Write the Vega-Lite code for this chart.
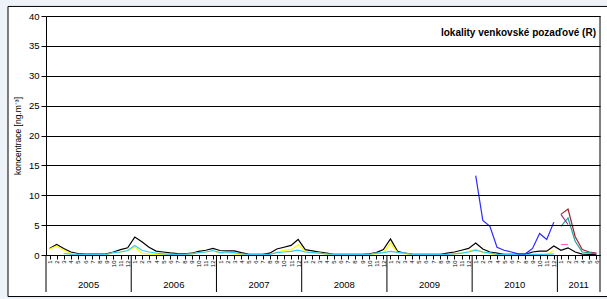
{
  "$schema": "https://vega.github.io/schema/vega-lite/v6.json",
  "autosize": {"type": "none"},
  "width": 554,
  "height": 239,
  "padding": {"left": 46, "top": 16, "right": 7, "bottom": 44},
  "background": "#eef2f9",
  "config": {"font": "Liberation Sans", "view": {"stroke": null}},
  "title": {"text": "lokality venkovské pozaďové (R)", "anchor": "end", "orient": "top", "frame": "group", "offset": -32, "dx": -4, "fontSize": 10, "fontWeight": "bold", "font": "Liberation Sans", "color": "#000", "zindex": 2},
  "datasets": {
    "series": [
      {"s":"k","i":0,"v":1.1},{"s":"k","i":1,"v":1.75},{"s":"k","i":2,"v":1.1},{"s":"k","i":3,"v":0.5},{"s":"k","i":4,"v":0.25},{"s":"k","i":5,"v":0.15},{"s":"k","i":6,"v":0.15},{"s":"k","i":7,"v":0.15},{"s":"k","i":8,"v":0.2},{"s":"k","i":9,"v":0.5},{"s":"k","i":10,"v":0.9},{"s":"k","i":11,"v":1.2},
      {"s":"k","i":12,"v":3.0},{"s":"k","i":13,"v":2.2},{"s":"k","i":14,"v":1.3},{"s":"k","i":15,"v":0.65},{"s":"k","i":16,"v":0.5},{"s":"k","i":17,"v":0.35},{"s":"k","i":18,"v":0.25},{"s":"k","i":19,"v":0.2},{"s":"k","i":20,"v":0.3},{"s":"k","i":21,"v":0.6},{"s":"k","i":22,"v":0.8},{"s":"k","i":23,"v":1.1},
      {"s":"k","i":24,"v":0.75},{"s":"k","i":25,"v":0.7},{"s":"k","i":26,"v":0.7},{"s":"k","i":27,"v":0.4},{"s":"k","i":28,"v":0.15},{"s":"k","i":29,"v":0.1},{"s":"k","i":30,"v":0.1},{"s":"k","i":31,"v":0.3},{"s":"k","i":32,"v":1.0},{"s":"k","i":33,"v":1.3},{"s":"k","i":34,"v":1.6},{"s":"k","i":35,"v":2.6},
      {"s":"k","i":36,"v":0.9},{"s":"k","i":37,"v":0.7},{"s":"k","i":38,"v":0.5},{"s":"k","i":39,"v":0.3},{"s":"k","i":40,"v":0.1},{"s":"k","i":41,"v":0.1},{"s":"k","i":42,"v":0.1},{"s":"k","i":43,"v":0.1},{"s":"k","i":44,"v":0.1},{"s":"k","i":45,"v":0.2},{"s":"k","i":46,"v":0.4},{"s":"k","i":47,"v":0.9},
      {"s":"k","i":48,"v":2.7},{"s":"k","i":49,"v":0.6},{"s":"k","i":50,"v":0.3},{"s":"k","i":51,"v":0.15},{"s":"k","i":52,"v":0.1},{"s":"k","i":53,"v":0.1},{"s":"k","i":54,"v":0.1},{"s":"k","i":55,"v":0.1},{"s":"k","i":56,"v":0.3},{"s":"k","i":57,"v":0.5},{"s":"k","i":58,"v":0.8},{"s":"k","i":59,"v":1.1},
      {"s":"k","i":60,"v":2.0},{"s":"k","i":61,"v":1.0},{"s":"k","i":62,"v":0.5},{"s":"k","i":63,"v":0.3},{"s":"k","i":64,"v":0.1},{"s":"k","i":65,"v":0.1},{"s":"k","i":66,"v":0.1},{"s":"k","i":67,"v":0.1},{"s":"k","i":68,"v":0.5},{"s":"k","i":69,"v":0.65},{"s":"k","i":70,"v":0.65},{"s":"k","i":71,"v":1.5},
      {"s":"k","i":72,"v":0.8},{"s":"k","i":73,"v":1.2},{"s":"k","i":74,"v":0.5},{"s":"k","i":75,"v":0.15},{"s":"k","i":76,"v":0.1},{"s":"k","i":77,"v":0.05},
      {"s":"y","i":0,"v":1.0},{"s":"y","i":1,"v":1.5},{"s":"y","i":2,"v":0.8},{"s":"y","i":3,"v":0.2},{"s":"y","i":4,"v":0.05},{"s":"y","i":5,"v":0.05},{"s":"y","i":6,"v":0.05},{"s":"y","i":7,"v":0.05},{"s":"y","i":8,"v":0.05},{"s":"y","i":9,"v":0.4},{"s":"y","i":10,"v":0.5},{"s":"y","i":11,"v":0.7},
      {"s":"y","i":12,"v":1.35},{"s":"y","i":13,"v":0.3},{"s":"y","i":14,"v":0.15},{"s":"y","i":15,"v":0.05},{"s":"y","i":16,"v":0.05},{"s":"y","i":17,"v":0.05},{"s":"y","i":18,"v":0.05},{"s":"y","i":19,"v":0.05},{"s":"y","i":20,"v":0.2},{"s":"y","i":21,"v":0.4},{"s":"y","i":22,"v":0.5},{"s":"y","i":23,"v":0.7},
      {"s":"y","i":24,"v":0.3},{"s":"y","i":25,"v":0.3},{"s":"y","i":26,"v":0.2},{"s":"y","i":27,"v":0.1},{"s":"y","i":28,"v":0.05},{"s":"y","i":29,"v":0.05},{"s":"y","i":30,"v":0.05},{"s":"y","i":31,"v":0.05},{"s":"y","i":32,"v":0.5},{"s":"y","i":33,"v":0.8},{"s":"y","i":34,"v":0.9},{"s":"y","i":35,"v":1.7},
      {"s":"y","i":36,"v":0.6},{"s":"y","i":37,"v":0.4},{"s":"y","i":38,"v":0.3},{"s":"y","i":39,"v":0.1},{"s":"y","i":40,"v":0.05},{"s":"y","i":41,"v":0.05},{"s":"y","i":42,"v":0.05},{"s":"y","i":43,"v":0.05},{"s":"y","i":44,"v":0.05},{"s":"y","i":45,"v":0.05},{"s":"y","i":46,"v":0.2},{"s":"y","i":47,"v":0.4},
      {"s":"y","i":48,"v":2.0},{"s":"y","i":49,"v":0.4},{"s":"y","i":50,"v":0.2},{"s":"y","i":51,"v":0.05},{"s":"y","i":52,"v":0.05},{"s":"y","i":53,"v":0.05},{"s":"y","i":54,"v":0.05},{"s":"y","i":55,"v":0.05},{"s":"y","i":56,"v":0.05},{"s":"y","i":57,"v":0.2},{"s":"y","i":58,"v":0.3},{"s":"y","i":59,"v":0.6},
      {"s":"y","i":60,"v":1.0},{"s":"y","i":61,"v":0.4},{"s":"y","i":62,"v":0.2},{"s":"y","i":63,"v":0.05},{"s":"y","i":64,"v":0.05},{"s":"y","i":65,"v":0.05},{"s":"y","i":66,"v":0.05},{"s":"y","i":67,"v":0.05},{"s":"y","i":68,"v":0.05},{"s":"y","i":69,"v":0.05},{"s":"y","i":70,"v":0.1},{"s":"y","i":71,"v":0.75},
      {"s":"c","i":2,"v":0.25},{"s":"c","i":3,"v":0.15},{"s":"c","i":4,"v":0.1},{"s":"c","i":5,"v":0.1},{"s":"c","i":6,"v":0.1},{"s":"c","i":7,"v":0.1},{"s":"c","i":8,"v":0.1},{"s":"c","i":9,"v":0.4},{"s":"c","i":10,"v":0.5},{"s":"c","i":11,"v":0.75},
      {"s":"c","i":12,"v":1.6},{"s":"c","i":13,"v":0.8},{"s":"c","i":14,"v":0.5},{"s":"c","i":15,"v":0.3},{"s":"c","i":16,"v":0.2},{"s":"c","i":17,"v":0.1},{"s":"c","i":18,"v":0.1},{"s":"c","i":19,"v":0.1},{"s":"c","i":20,"v":0.2},{"s":"c","i":21,"v":0.4},{"s":"c","i":22,"v":0.5},{"s":"c","i":23,"v":0.75},
      {"s":"c","i":24,"v":0.4},{"s":"c","i":25,"v":0.5},{"s":"c","i":26,"v":0.4},{"s":"c","i":27,"v":0.2},{"s":"c","i":28,"v":0.1},{"s":"c","i":29,"v":0.1},{"s":"c","i":30,"v":0.1},{"s":"c","i":31,"v":0.1},{"s":"c","i":32,"v":0.4},{"s":"c","i":33,"v":0.5},{"s":"c","i":34,"v":0.6},{"s":"c","i":35,"v":0.8},
      {"s":"c","i":36,"v":0.5},{"s":"c","i":37,"v":0.4},{"s":"c","i":38,"v":0.3},{"s":"c","i":39,"v":0.2},{"s":"c","i":40,"v":0.1},{"s":"c","i":41,"v":0.1},{"s":"c","i":42,"v":0.1},{"s":"c","i":43,"v":0.1},{"s":"c","i":44,"v":0.1},{"s":"c","i":45,"v":0.1},{"s":"c","i":46,"v":0.3},{"s":"c","i":47,"v":0.4},
      {"s":"c","i":48,"v":0.6},{"s":"c","i":49,"v":0.45},{"s":"c","i":50,"v":0.3},{"s":"c","i":51,"v":0.1},{"s":"c","i":52,"v":0.1},{"s":"c","i":53,"v":0.1},{"s":"c","i":54,"v":0.1},{"s":"c","i":55,"v":0.1},{"s":"c","i":56,"v":0.1},{"s":"c","i":57,"v":0.2},{"s":"c","i":58,"v":0.3},{"s":"c","i":59,"v":0.5},
      {"s":"c","i":60,"v":0.8},{"s":"c","i":61,"v":0.5},{"s":"c","i":62,"v":0.35},{"s":"c","i":63,"v":0.1},{"s":"c","i":64,"v":0.1},{"s":"c","i":65,"v":0.1},{"s":"c","i":66,"v":0.1},{"s":"c","i":67,"v":0.1},{"s":"c","i":68,"v":0.1},{"s":"c","i":69,"v":0.1},{"s":"c","i":70,"v":0.1},{"s":"c","i":71,"v":0.2},
      {"s":"b","i":60,"v":13.3},{"s":"b","i":61,"v":5.8},{"s":"b","i":62,"v":4.8},{"s":"b","i":63,"v":1.3},{"s":"b","i":64,"v":0.8},{"s":"b","i":65,"v":0.5},{"s":"b","i":66,"v":0.2},{"s":"b","i":67,"v":0.2},{"s":"b","i":68,"v":1.1},{"s":"b","i":69,"v":3.6},{"s":"b","i":70,"v":2.6},{"s":"b","i":71,"v":5.5},
      {"s":"r","i":72,"v":6.8},{"s":"r","i":73,"v":7.7},{"s":"r","i":74,"v":3.1},{"s":"r","i":75,"v":0.9},{"s":"r","i":76,"v":0.5},{"s":"r","i":77,"v":0.3},
      {"s":"t","i":72,"v":4.8},{"s":"t","i":73,"v":6.2},{"s":"t","i":74,"v":2.3},{"s":"t","i":75,"v":0.5},{"s":"t","i":76,"v":0.35},{"s":"t","i":77,"v":0.2},
      {"s":"p","i":72,"v":6.8},{"s":"p","i":73,"v":5.1},
      {"s":"m","i":72,"v":1.75},{"s":"m","i":73,"v":1.75}
    ],
    "years": [
      {"year":"2005","c":5.5},{"year":"2006","c":17.5},{"year":"2007","c":29.5},{"year":"2008","c":41.5},{"year":"2009","c":53.5},{"year":"2010","c":65.5},{"year":"2011","c":74.5}
    ],
    "bounds": [
      {"b":-0.5},{"b":11.5},{"b":23.5},{"b":35.5},{"b":47.5},{"b":59.5},{"b":71.5},{"b":77.5}
    ],
    "one": [{"k":1}]
  },
  "layer": [
    {
      "data": {"name": "one"},
      "mark": {"type": "rect", "fill": "white", "stroke": "black", "strokeWidth": 1, "clip": false},
      "encoding": {
        "x": {"datum": -5.85, "type": "quantitative", "scale": {"domain": [-0.5, 77.5], "nice": false, "zero": false},
          "axis": {"values": [0,1,2,3,4,5,6,7,8,9,10,11,12,13,14,15,16,17,18,19,20,21,22,23,24,25,26,27,28,29,30,31,32,33,34,35,36,37,38,39,40,41,42,43,44,45,46,47,48,49,50,51,52,53,54,55,56,57,58,59,60,61,62,63,64,65,66,67,68,69,70,71,72,73,74,75,76,77],
            "labelExpr": "(datum.value % 12) + 1", "labelAngle": -90, "labelFontSize": 6, "labelPadding": 1, "labelColor": "#000", "labelOverlap": false, "labelBound": false, "labelFlush": false,
            "tickSize": 4, "tickColor": "#000", "domainColor": "#000", "grid": false, "title": null, "zindex": 1}},
        "x2": {"datum": 80},
        "y": {"datum": 41.6, "type": "quantitative", "scale": {"domain": [0, 40], "nice": false},
          "axis": {"values": [0,5,10,15,20,25,30,35,40], "title": "koncentrace [ng.m⁻³]", "titleFontSize": 8.5, "titleFontWeight": "normal", "titleColor": "#000", "titlePadding": 6,
            "labelFontSize": 9.5, "labelColor": "#000", "labelPadding": 2, "tickSize": 5, "tickColor": "#000", "domainColor": "#000",
            "grid": true, "gridColor": "#000", "gridWidth": 1, "zindex": 1}},
        "y2": {"datum": -6.95}
      }
    },
    {
      "data": {"name": "series"},
      "mark": {"type": "line", "strokeWidth": 1.2, "clip": false},
      "encoding": {
        "x": {"field": "i", "type": "quantitative",
          "axis": {"values": [0,1,2,3,4,5,6,7,8,9,10,11,12,13,14,15,16,17,18,19,20,21,22,23,24,25,26,27,28,29,30,31,32,33,34,35,36,37,38,39,40,41,42,43,44,45,46,47,48,49,50,51,52,53,54,55,56,57,58,59,60,61,62,63,64,65,66,67,68,69,70,71,72,73,74,75,76,77],
            "labelExpr": "(datum.value % 12) + 1", "labelAngle": -90, "labelFontSize": 6, "labelPadding": 1, "labelColor": "#000", "labelOverlap": false, "labelBound": false, "labelFlush": false,
            "tickSize": 4, "tickColor": "#000", "domainColor": "#000", "grid": false, "title": null, "zindex": 1}},
        "y": {"field": "v", "type": "quantitative",
          "axis": {"values": [0,5,10,15,20,25,30,35,40], "title": "koncentrace [ng.m⁻³]", "titleFontSize": 8.5, "titleFontWeight": "normal", "titleColor": "#000", "titlePadding": 6,
            "labelFontSize": 9.5, "labelColor": "#000", "labelPadding": 2, "tickSize": 5, "tickColor": "#000", "domainColor": "#000",
            "grid": true, "gridColor": "#000", "gridWidth": 1, "zindex": 1}},
        "color": {"field": "s", "type": "nominal", "legend": null,
          "scale": {"domain": ["k","y","c","b","r","t","p","m"], "range": ["#000000","#ffff00","#33ccff","#2b2bff","#a0232d","#1f9e9e","#9a2f7f","#ff66cc"]}},
        "order": {"field": "i"}
      }
    },
    {
      "data": {"name": "bounds"},
      "mark": {"type": "rule", "color": "#000", "strokeWidth": 1, "clip": false},
      "encoding": {
        "x": {"field": "b", "type": "quantitative",
          "axis": {"values": [0,1,2,3,4,5,6,7,8,9,10,11,12,13,14,15,16,17,18,19,20,21,22,23,24,25,26,27,28,29,30,31,32,33,34,35,36,37,38,39,40,41,42,43,44,45,46,47,48,49,50,51,52,53,54,55,56,57,58,59,60,61,62,63,64,65,66,67,68,69,70,71,72,73,74,75,76,77],
            "labelExpr": "(datum.value % 12) + 1", "labelAngle": -90, "labelFontSize": 6, "labelPadding": 1, "labelColor": "#000", "labelOverlap": false, "labelBound": false, "labelFlush": false,
            "tickSize": 4, "tickColor": "#000", "domainColor": "#000", "grid": false, "title": null, "zindex": 1}},
        "y": {"datum": 0, "type": "quantitative",
          "axis": {"values": [0,5,10,15,20,25,30,35,40], "title": "koncentrace [ng.m⁻³]", "titleFontSize": 8.5, "titleFontWeight": "normal", "titleColor": "#000", "titlePadding": 6,
            "labelFontSize": 9.5, "labelColor": "#000", "labelPadding": 2, "tickSize": 5, "tickColor": "#000", "domainColor": "#000",
            "grid": true, "gridColor": "#000", "gridWidth": 1, "zindex": 1}},
        "y2": {"datum": -6.2}
      }
    },
    {
      "data": {"name": "one"},
      "mark": {"type": "rule", "color": "#000", "strokeWidth": 1, "clip": false},
      "encoding": {
        "x": {"datum": 77.5, "type": "quantitative",
          "axis": {"values": [0,1,2,3,4,5,6,7,8,9,10,11,12,13,14,15,16,17,18,19,20,21,22,23,24,25,26,27,28,29,30,31,32,33,34,35,36,37,38,39,40,41,42,43,44,45,46,47,48,49,50,51,52,53,54,55,56,57,58,59,60,61,62,63,64,65,66,67,68,69,70,71,72,73,74,75,76,77],
            "labelExpr": "(datum.value % 12) + 1", "labelAngle": -90, "labelFontSize": 6, "labelPadding": 1, "labelColor": "#000", "labelOverlap": false, "labelBound": false, "labelFlush": false,
            "tickSize": 4, "tickColor": "#000", "domainColor": "#000", "grid": false, "title": null, "zindex": 1}},
        "y": {"datum": 0, "type": "quantitative",
          "axis": {"values": [0,5,10,15,20,25,30,35,40], "title": "koncentrace [ng.m⁻³]", "titleFontSize": 8.5, "titleFontWeight": "normal", "titleColor": "#000", "titlePadding": 6,
            "labelFontSize": 9.5, "labelColor": "#000", "labelPadding": 2, "tickSize": 5, "tickColor": "#000", "domainColor": "#000",
            "grid": true, "gridColor": "#000", "gridWidth": 1, "zindex": 1}},
        "y2": {"datum": 40}
      }
    },
    {
      "data": {"name": "years"},
      "mark": {"type": "text", "fontSize": 9.5, "color": "#000", "baseline": "middle", "align": "center", "clip": false},
      "encoding": {
        "x": {"field": "c", "type": "quantitative",
          "axis": {"values": [0,1,2,3,4,5,6,7,8,9,10,11,12,13,14,15,16,17,18,19,20,21,22,23,24,25,26,27,28,29,30,31,32,33,34,35,36,37,38,39,40,41,42,43,44,45,46,47,48,49,50,51,52,53,54,55,56,57,58,59,60,61,62,63,64,65,66,67,68,69,70,71,72,73,74,75,76,77],
            "labelExpr": "(datum.value % 12) + 1", "labelAngle": -90, "labelFontSize": 6, "labelPadding": 1, "labelColor": "#000", "labelOverlap": false, "labelBound": false, "labelFlush": false,
            "tickSize": 4, "tickColor": "#000", "domainColor": "#000", "grid": false, "title": null, "zindex": 1}},
        "y": {"datum": -5.0, "type": "quantitative",
          "axis": {"values": [0,5,10,15,20,25,30,35,40], "title": "koncentrace [ng.m⁻³]", "titleFontSize": 8.5, "titleFontWeight": "normal", "titleColor": "#000", "titlePadding": 6,
            "labelFontSize": 9.5, "labelColor": "#000", "labelPadding": 2, "tickSize": 5, "tickColor": "#000", "domainColor": "#000",
            "grid": true, "gridColor": "#000", "gridWidth": 1, "zindex": 1}},
        "text": {"field": "year"}
      }
    }
  ]
}
